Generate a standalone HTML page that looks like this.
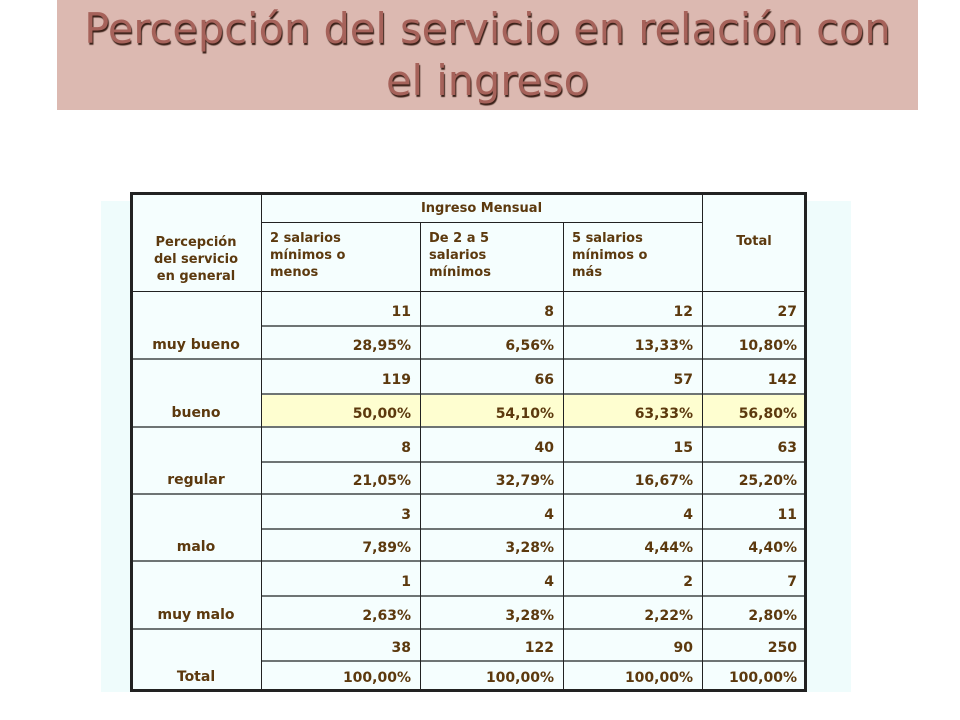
<!DOCTYPE html>
<html><head><meta charset="utf-8">
<style>
body{margin:0;width:960px;height:720px;background:#fff;position:relative;overflow:hidden;font-family:"DejaVu Sans","Liberation Sans",sans-serif;}
#band{position:absolute;left:57px;top:0;width:861px;height:110px;background:#dcb9b1;}
#title{position:absolute;left:57px;top:3px;width:861px;text-align:center;font-family:"DejaVu Sans",sans-serif;font-size:41.5px;line-height:52px;color:#a6625a;text-shadow:1px 2px 1px #3a2018;}
#panel{position:absolute;left:101px;top:201px;width:750px;height:491px;background:#effcfc;}
#tbl{position:absolute;left:0;top:0;}
.c{position:absolute;box-sizing:border-box;color:#5c390e;font-weight:bold;font-size:13px;background:#f5fefe;}
.b{position:absolute;background:#222;}
.g{position:absolute;background:#6e7474;}
</style></head>
<body>
<div id="band"></div>
<div id="title">Percepción del servicio en relación con<br>el ingreso</div>
<div id="panel"></div>
<div id="tbl"></div>
<script>
const categories=["muy bueno","bueno","regular","malo","muy malo","Total"];
const counts=[[11,8,12,27],[119,66,57,142],[8,40,15,63],[3,4,4,11],[1,4,2,7],[38,122,90,250]];
const percents=[["28,95%","6,56%","13,33%","10,80%"],["50,00%","54,10%","63,33%","56,80%"],["21,05%","32,79%","16,67%","25,20%"],["7,89%","3,28%","4,44%","4,40%"],["2,63%","3,28%","2,22%","2,80%"],["100,00%","100,00%","100,00%","100,00%"]];
const colHeaders=["2 salarios<br>mínimos o<br>menos","De 2 a 5<br>salarios<br>mínimos","5 salarios<br>mínimos o<br>más"];
const T=document.getElementById('tbl');
const xs=[131,261,420,563,702,806];
const rowTops=[291,359,427,494,561,629,691];
function cell(x,y,w,h,html,st,name){
  const d=document.createElement('div');d.className='c';
  
  
  d.style.cssText+=`left:${x}px;top:${y}px;width:${w}px;height:${h}px;`+st;
  d.innerHTML=html;T.appendChild(d);return d;
}
function line(x,y,w,h,cls){const d=document.createElement('div');d.className=cls;
  
  
  d.style.cssText=`left:${x}px;top:${y}px;width:${w}px;height:${h}px;`;T.appendChild(d);}
cell(131,193,130,98,"Percepción<br>del servicio<br>en general","display:flex;align-items:flex-end;justify-content:center;text-align:center;padding-bottom:6px;line-height:17px;","row-header-title");
cell(261,193,441,29,"Ingreso Mensual","text-align:center;line-height:31px;","column-group-header");
for(let i=0;i<3;i++){
  cell(xs[i+1],222,xs[i+2]-xs[i+1],69,colHeaders[i],"padding:8px 0 0 9px;line-height:17px;","column-header-"+(i+1));
}
cell(702,193,104,98,"Total","text-align:center;line-height:98px;","column-header-total");
categories.forEach((cat,r)=>{
  const y0=rowTops[r],y1=rowTops[r+1],mid=Math.round((y0+y1)/2);
  cell(131,y0,130,y1-y0,cat,"display:flex;align-items:flex-end;justify-content:center;padding-bottom:6px;font-size:14px;","row-label-"+cat.replace(/ /g,'-'));
  for(let c=0;c<4;c++){
    cell(xs[c+1],y0,xs[c+2]-xs[c+1],mid-y0,String(counts[r][c]),"text-align:right;padding-right:9px;padding-top:4px;line-height:"+(mid-y0)+"px;font-size:14px;","count-"+r+"-"+c);
    const hl=(r===1)?"background:#fefed0;":"";
    cell(xs[c+1],mid,xs[c+2]-xs[c+1],y1-mid,percents[r][c],"text-align:right;padding-right:9px;padding-top:"+(y1-mid-21)+"px;font-size:14px;"+hl,"percent-"+r+"-"+c);
    }
  line(261,mid,545,2,'g');
  if(r>0) line(131,y0-1,675,2,'g');
});
line(131,291,675,1,'b');
line(261,222,441,1,'b');
for(let i=1;i<5;i++) line(xs[i],i===1||i===4?193:222,1,691-(i===1||i===4?193:222),'b');
line(130,192,677,3,'b');line(130,689,677,3,'b');line(130,192,3,500,'b');line(804,192,3,500,'b');
</script>
</body></html>
